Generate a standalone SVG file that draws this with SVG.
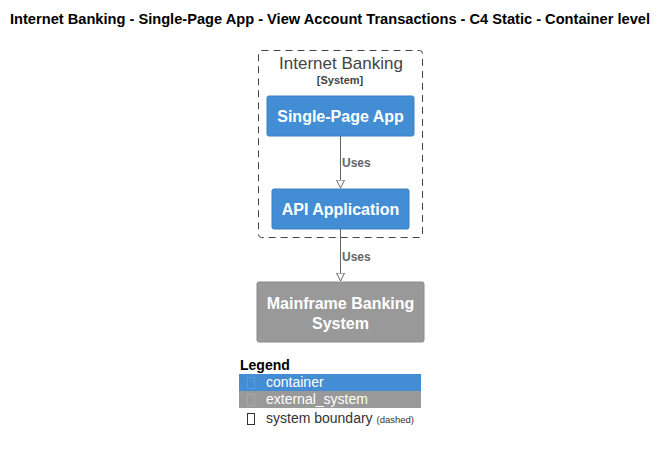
<svg xmlns="http://www.w3.org/2000/svg" width="668" height="452" viewBox="0 0 668 452">
<style>
text{font-family:"Liberation Sans",Arial,sans-serif}
.title{font-size:14px;font-weight:bold;fill:#000}
.node{font-size:16px;font-weight:bold;fill:#fff}
.lbl{font-size:12px;font-weight:bold;fill:#666}
.leg{font-size:14px;fill:#fff}
.conn{stroke:#666;stroke-width:1;fill:none}
</style>
<defs>
<marker id="arr" markerWidth="10" markerHeight="10" refX="8" refY="4" orient="auto" markerUnits="userSpaceOnUse">
<path d="M0,0 L8,4 L0,8 Z" fill="#fff" stroke="#666" stroke-width="1"/>
</marker>
</defs>
<rect width="668" height="452" fill="#fff"/>
<text class="title" x="10" y="24" textLength="640" lengthAdjust="spacingAndGlyphs">Internet Banking - Single-Page App - View Account Transactions - C4 Static - Container level</text>
<g id="boundary">
<rect x="258.5" y="50.5" width="164" height="187" rx="3" fill="none" stroke="#444" stroke-width="1" stroke-dasharray="7,5"/>
<text x="341" y="69" text-anchor="middle" font-size="17" fill="#444">Internet Banking</text>
<text x="340" y="84" text-anchor="middle" font-size="11" font-weight="bold" fill="#444">[System]</text>
</g>
<g id="spa">
<rect x="267" y="96" width="147" height="40" rx="2" fill="#438DD5" stroke="#3C7FC0"/>
<text class="node" x="340.5" y="122" text-anchor="middle">Single-Page App</text>
</g>
<g id="api">
<rect x="272" y="189" width="137" height="40" rx="2" fill="#438DD5" stroke="#3C7FC0"/>
<text class="node" x="340.5" y="215" text-anchor="middle">API Application</text>
</g>
<g id="mainframe">
<rect x="257" y="282" width="167" height="60" rx="2" fill="#999999" stroke="#8A8A8A"/>
<text class="node" x="340.5" y="309" text-anchor="middle">Mainframe Banking</text>
<text class="node" x="340.5" y="329" text-anchor="middle">System</text>
</g>
<g id="connectors">
<line class="conn" x1="340.5" y1="136" x2="340.5" y2="188" marker-end="url(#arr)"/>
<text class="lbl" x="342" y="167">Uses</text>
<line class="conn" x1="340.5" y1="229" x2="340.5" y2="281" marker-end="url(#arr)"/>
<text class="lbl" x="342" y="261">Uses</text>
</g>
<g id="legend">
<text x="240" y="370" font-size="14" font-weight="bold" fill="#000">Legend</text>
<rect x="239" y="374" width="182" height="17" fill="#438DD5"/>
<rect x="247.5" y="377.5" width="7" height="11" fill="none" stroke="#5a9ae0" stroke-width="1"/>
<text class="leg" x="266" y="387">container</text>
<rect x="239" y="391" width="182" height="17" fill="#999999"/>
<rect x="247.5" y="394.5" width="7" height="11" fill="none" stroke="#a8a8a8" stroke-width="1"/>
<text class="leg" x="266" y="404">external_system</text>
<rect x="247.5" y="413.5" width="7" height="11" fill="none" stroke="#333" stroke-width="1"/>
<text x="266" y="423" font-size="14" fill="#333">system boundary <tspan font-size="9.5">(dashed)</tspan></text>
</g>
</svg>
